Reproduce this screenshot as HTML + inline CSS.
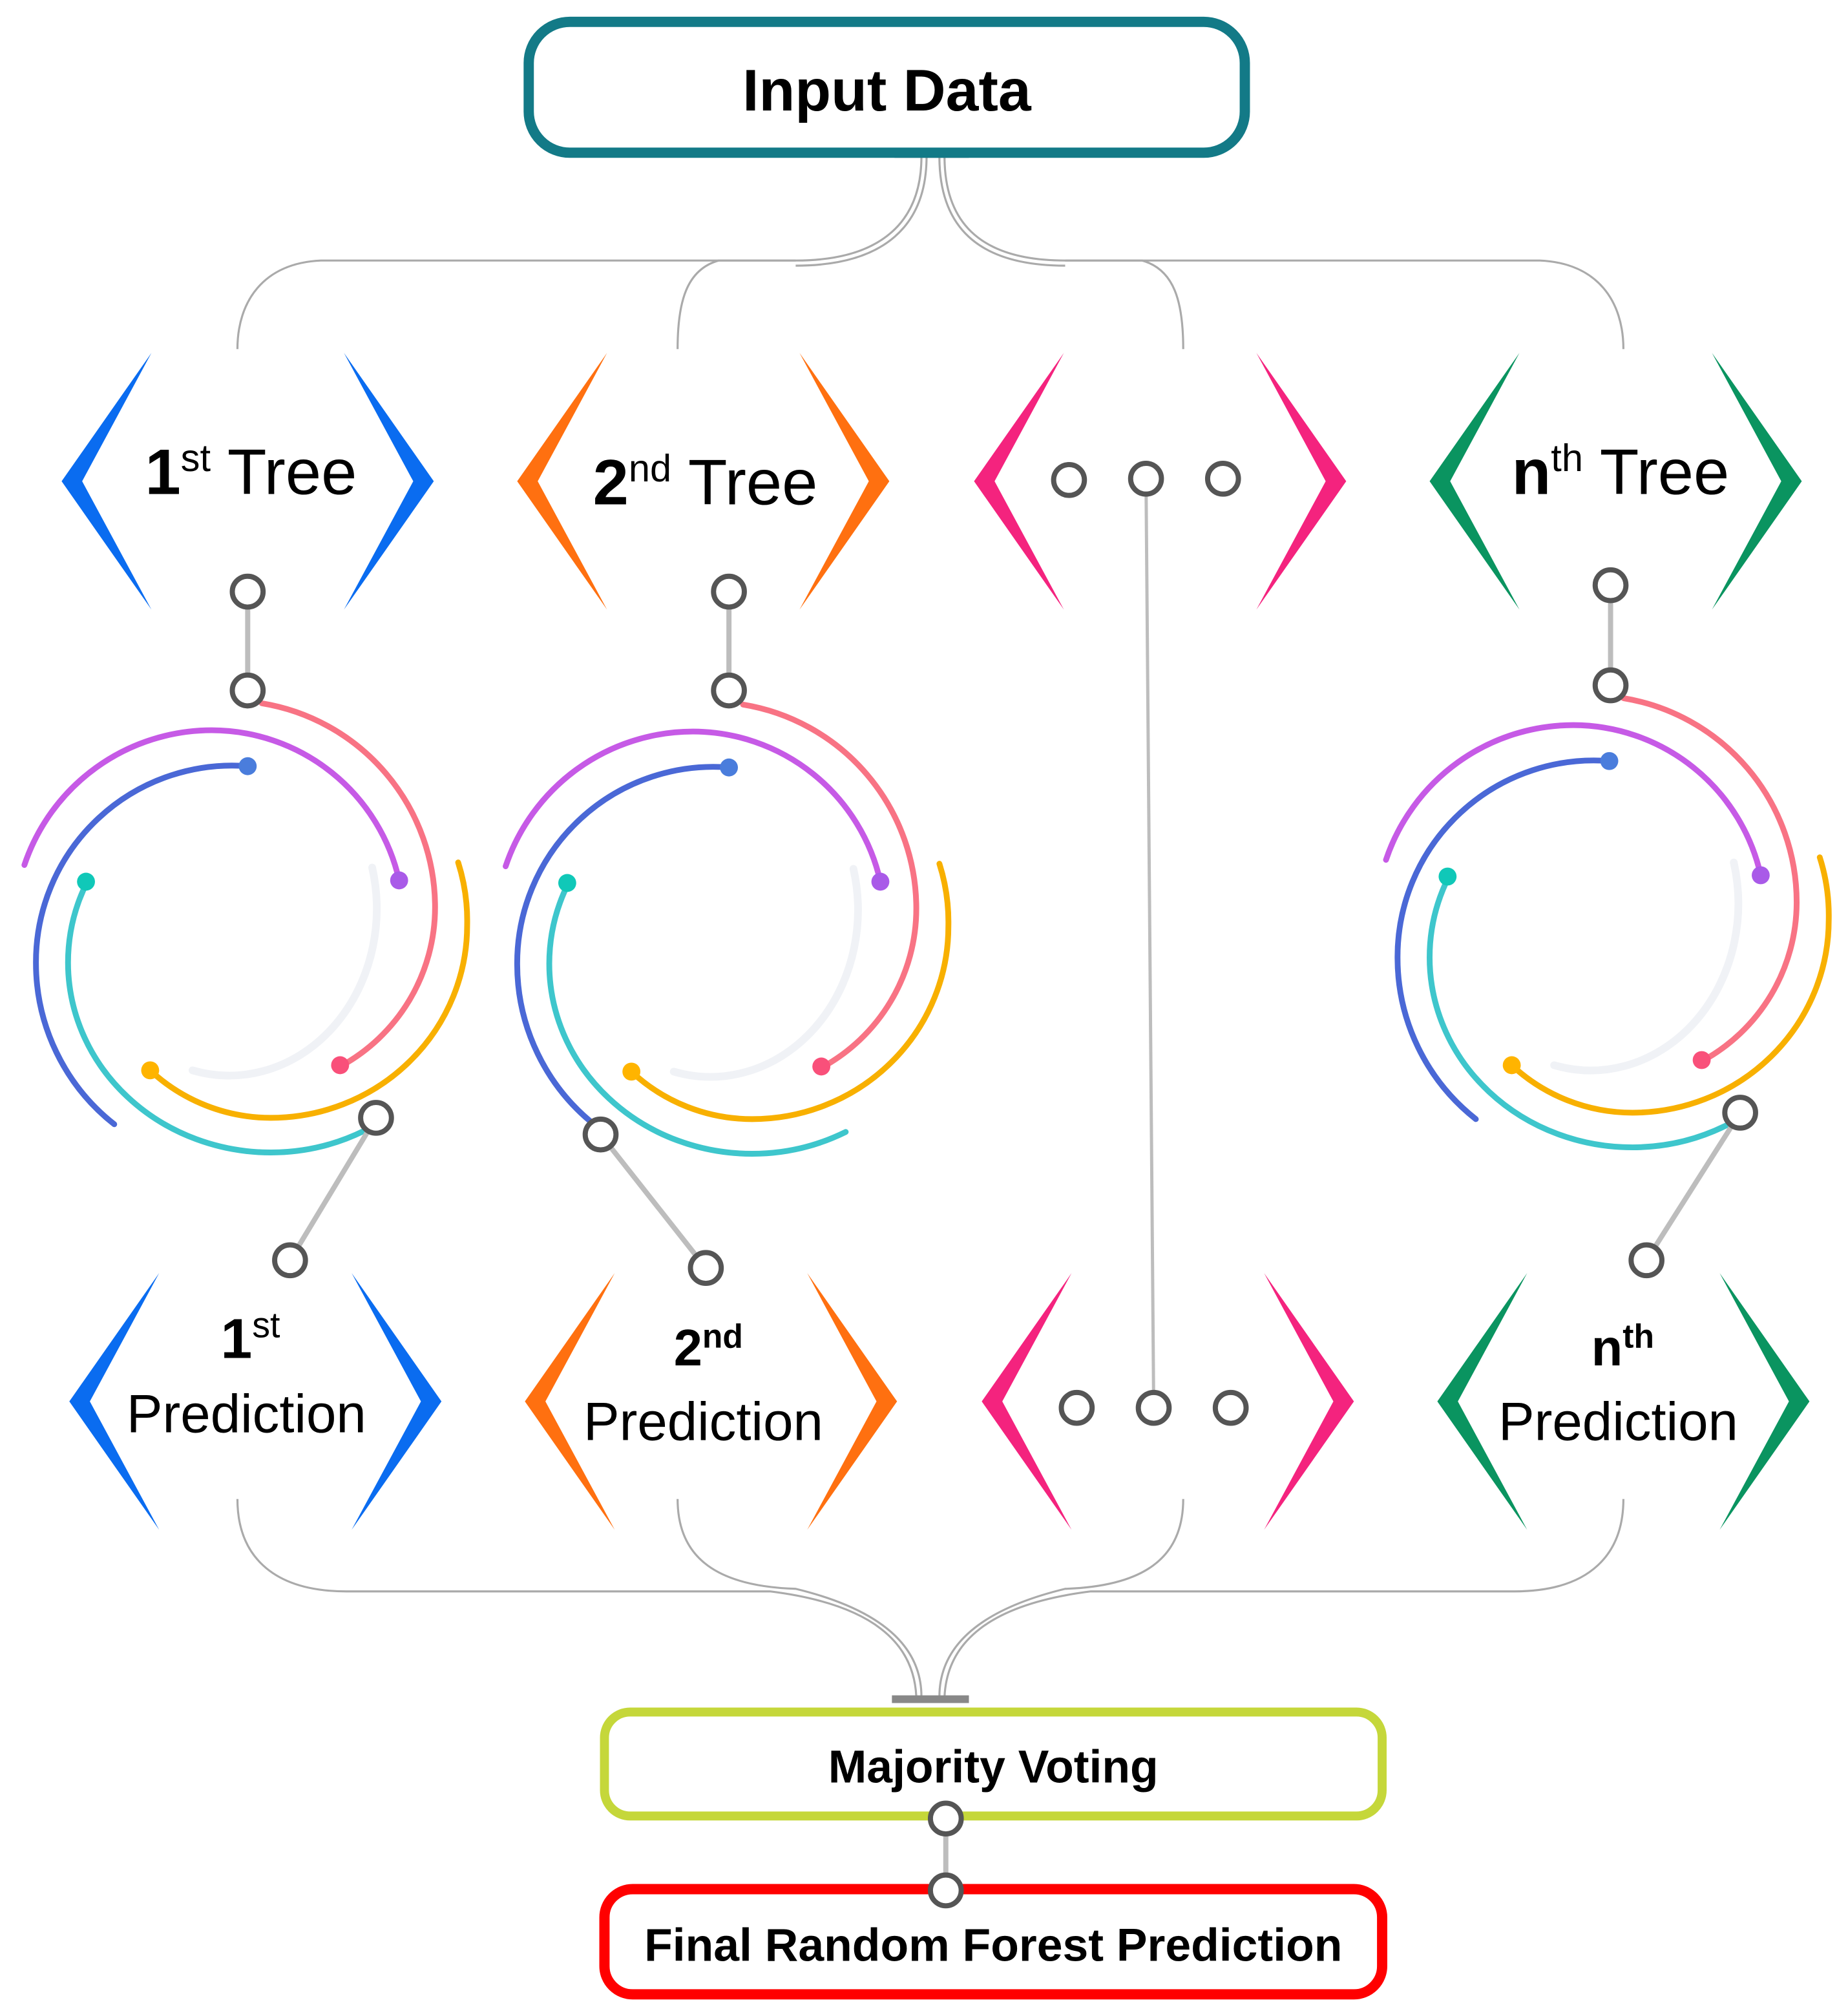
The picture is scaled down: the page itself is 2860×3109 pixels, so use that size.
<!DOCTYPE html>
<html><head><meta charset="utf-8"><style>
html,body{margin:0;padding:0;background:#fff}
svg{display:block}
text{font-family:"Liberation Sans",sans-serif;fill:#000}
</style></head><body>
<svg width="2860" height="3109" viewBox="0 0 1440 1565.4" xmlns="http://www.w3.org/2000/svg">
<defs>
<g id="rings" fill="none" stroke-width="4.5" stroke-linecap="round">
  <path d="M290,676 A115,130 0 0 1 150,834" stroke="#f0f2f6" stroke-width="6"/>
  <path d="M204,548 A161,161 0 0 1 339,707 A141,141 0 0 1 265,831" stroke="#f87384"/>
  <path d="M19,674 A154,154 0 0 1 165,569 A150,150 0 0 1 311,686" stroke="#c65ae6"/>
  <path d="M193,597 A153,153 0 0 0 28,750 A160,160 0 0 0 89,876" stroke="#4a68d6"/>
  <path d="M68,687 A140,140 0 0 0 53,750 A158,148 0 0 0 211,898 A165,165 0 0 0 284,881" stroke="#3ec6cc"/>
  <path d="M357,672 A150,150 0 0 1 364,721 A153,150 0 0 1 211,871 A138,138 0 0 1 117,834" stroke="#f8b000"/>
  <circle cx="193" cy="597" r="7" fill="#4a7ddc" stroke="none"/>
  <circle cx="311" cy="686" r="7" fill="#a95ae8" stroke="none"/>
  <circle cx="67" cy="687" r="7" fill="#10c8b8" stroke="none"/>
  <circle cx="117" cy="834" r="7" fill="#ffb400" stroke="none"/>
  <circle cx="265" cy="830" r="7" fill="#f9507a" stroke="none"/>
</g>
</defs>

<!-- top connectors -->
<g fill="none" stroke="#aaa" stroke-width="1.6">
  <path d="M718,122 C718,170 690,203 620,203 L560,203 C535,210 528,235 528,272"/>
  <path d="M722,122 C722,175 690,207 620,207"/>
  <path d="M732,122 C732,175 760,207 830,207"/>
  <path d="M736,122 C736,170 760,203 830,203 L890,203 C915,210 922,235 922,272"/>
  <path d="M620,203 L250,203 C205,205 185,235 185,272"/>
  <path d="M830,203 L1200,203 C1245,205 1265,235 1265,272"/>
</g>
<rect x="697" y="117" width="58" height="6" fill="#888"/>
<!-- bottom connectors -->
<g fill="none" stroke="#aaa" stroke-width="1.6">
  <path d="M185,1168 C185,1210 210,1240 270,1240 L600,1240 C680,1250 712,1280 714,1322"/>
  <path d="M528,1168 C528,1215 560,1236 620,1238 C690,1255 718,1285 718,1322"/>
  <path d="M922,1168 C922,1215 890,1236 830,1238 C760,1255 732,1285 732,1322"/>
  <path d="M1265,1168 C1265,1210 1240,1240 1180,1240 L850,1240 C770,1250 738,1280 736,1322"/>
</g>
<rect x="695" y="1321" width="60" height="6" fill="#888"/>

<!-- boxes -->
<rect x="412" y="17" width="558" height="102" rx="32" fill="#fff" stroke="#137a87" stroke-width="8"/>
<text x="691" y="86" font-size="46" font-weight="bold" text-anchor="middle">Input Data</text>
<rect x="471" y="1334" width="606" height="81" rx="20" fill="#fff" stroke="#c5d73a" stroke-width="7"/>
<text x="774" y="1389" font-size="36" font-weight="bold" text-anchor="middle">Majority Voting</text>
<rect x="471" y="1472" width="606" height="82" rx="22" fill="#fff" stroke="#ff0000" stroke-width="8"/>
<text x="774" y="1528" font-size="36" font-weight="bold" text-anchor="middle">Final Random Forest Prediction</text>

<!-- chevrons top row -->
<g>
  <polygon points="118,275 48,375 118,475 64,375" fill="#0a6cf0"/>
  <polygon points="268,275 338,375 268,475 322,375" fill="#0a6cf0"/>
  <polygon points="473,275 403,375 473,475 419,375" fill="#ff7010"/>
  <polygon points="623,275 693,375 623,475 677,375" fill="#ff7010"/>
  <polygon points="829,275 759,375 829,475 775,375" fill="#f4237e"/>
  <polygon points="979,275 1049,375 979,475 1033,375" fill="#f4237e"/>
  <polygon points="1184,275 1114,375 1184,475 1130,375" fill="#0a9460"/>
  <polygon points="1334,275 1404,375 1334,475 1388,375" fill="#0a9460"/>
</g>
<!-- chevrons bottom row -->
<g>
  <polygon points="124,992 54,1092 124,1192 70,1092" fill="#0a6cf0"/>
  <polygon points="274,992 344,1092 274,1192 328,1092" fill="#0a6cf0"/>
  <polygon points="479,992 409,1092 479,1192 425,1092" fill="#ff7010"/>
  <polygon points="629,992 699,1092 629,1192 683,1092" fill="#ff7010"/>
  <polygon points="835,992 765,1092 835,1192 781,1092" fill="#f4237e"/>
  <polygon points="985,992 1055,1092 985,1192 1039,1092" fill="#f4237e"/>
  <polygon points="1190,992 1120,1092 1190,1192 1136,1092" fill="#0a9460"/>
  <polygon points="1340,992 1410,1092 1340,1192 1394,1092" fill="#0a9460"/>
</g>

<!-- tree labels -->
<text x="113" y="385" font-size="50"><tspan font-weight="bold">1</tspan><tspan font-size="30" dy="-18">st</tspan><tspan dy="18"> Tree</tspan></text>
<text x="462" y="393" font-size="50"><tspan font-weight="bold">2</tspan><tspan font-size="30" dy="-18">nd</tspan><tspan dy="18"> Tree</tspan></text>
<text x="1178" y="385" font-size="50"><tspan font-weight="bold">n</tspan><tspan font-size="30" dy="-18">th</tspan><tspan dy="18"> Tree</tspan></text>
<!-- prediction labels -->
<text x="172" y="1058" font-size="44" font-weight="bold">1<tspan font-size="28" dy="-16" font-weight="normal">st</tspan></text>
<text x="192" y="1116" font-size="42" text-anchor="middle">Prediction</text>
<text x="525" y="1064" font-size="40" font-weight="bold">2<tspan font-size="26" dy="-14">nd</tspan></text>
<text x="548" y="1122" font-size="42" text-anchor="middle">Prediction</text>
<text x="1240" y="1064" font-size="40" font-weight="bold">n<tspan font-size="26" dy="-14">th</tspan></text>
<text x="1261" y="1122" font-size="42" text-anchor="middle">Prediction</text>

<!-- rings -->
<use href="#rings"/>
<use href="#rings" transform="translate(375,1)"/>
<use href="#rings" transform="translate(1061,-4)"/>

<!-- connector lines -->
<g stroke="#bdbdbd" stroke-width="4" fill="none">
  <line x1="193" y1="461" x2="193" y2="538"/>
  <line x1="568" y1="461" x2="568" y2="538"/>
  <line x1="1255" y1="456" x2="1255" y2="534"/>
  <line x1="293" y1="871" x2="226" y2="982"/>
  <line x1="468" y1="884" x2="550" y2="988"/>
  <line x1="1356" y1="867" x2="1283" y2="982"/>
  <line x1="893" y1="373" x2="899" y2="1097" stroke-width="2.5"/>
  <line x1="737" y1="1417" x2="737" y2="1473"/>
</g>
<!-- small circles -->
<g fill="#fff" stroke="#555" stroke-width="4">
  <circle cx="193" cy="461" r="12"/><circle cx="193" cy="538" r="12"/>
  <circle cx="568" cy="461" r="12"/><circle cx="568" cy="538" r="12"/>
  <circle cx="1255" cy="456" r="12"/><circle cx="1255" cy="534" r="12"/>
  <circle cx="293" cy="871" r="12"/><circle cx="226" cy="982" r="12"/>
  <circle cx="468" cy="884" r="12"/><circle cx="550" cy="988" r="12"/>
  <circle cx="1356" cy="867" r="12"/><circle cx="1283" cy="982" r="12"/>
  <circle cx="833" cy="374" r="12"/><circle cx="893" cy="373" r="12"/><circle cx="953" cy="373" r="12"/>
  <circle cx="839" cy="1097" r="12"/><circle cx="899" cy="1097" r="12"/><circle cx="959" cy="1097" r="12"/>
  <circle cx="737" cy="1417" r="12"/><circle cx="737" cy="1473" r="12"/>
</g>
</svg>
</body></html>
